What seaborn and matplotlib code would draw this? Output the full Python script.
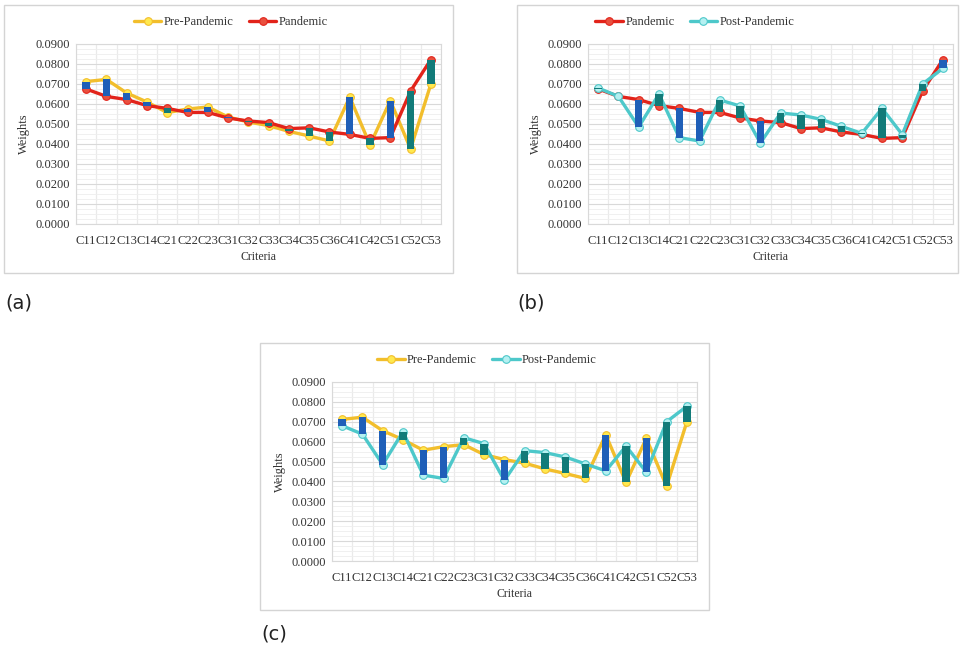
import numpy as np
import pandas as pd
import matplotlib
matplotlib.use('Agg')
import matplotlib.pyplot as plt
import seaborn as sns
from matplotlib.patches import Rectangle
from matplotlib.ticker import MultipleLocator, FormatStrFormatter

# Data
criteria = ['C11', 'C12', 'C13', 'C14', 'C21', 'C22', 'C23', 'C31', 'C32',
            'C33', 'C34', 'C35', 'C36', 'C41', 'C42', 'C51', 'C52', 'C53']
pre = [0.0712, 0.0723, 0.0655, 0.0610, 0.0557, 0.0575, 0.0585, 0.0535, 0.0510,
       0.0492, 0.0463, 0.0440, 0.0415, 0.0635, 0.0395, 0.0617, 0.0375, 0.0700]
pandemic = [0.0675, 0.0638, 0.0622, 0.0592, 0.0578, 0.0558, 0.0558, 0.0530, 0.0515,
            0.0507, 0.0477, 0.0481, 0.0460, 0.0448, 0.0428, 0.0432, 0.0665, 0.0822]
post = [0.0680, 0.0638, 0.0485, 0.0650, 0.0432, 0.0415, 0.0620, 0.0590, 0.0405,
        0.0555, 0.0545, 0.0523, 0.0488, 0.0453, 0.0578, 0.0447, 0.0700, 0.0778]

series = {
    'Pre-Pandemic': (pre, '#F2BE2C', '#FFE94F'),
    'Pandemic': (pandemic, '#E2231A', '#E8503F'),
    'Post-Pandemic': (post, '#4DC8CA', '#B5F0F1'),
}
BLUE = '#1F5FB8'
TEAL = '#127B79'

sns.set_theme(style='white')
plt.rcParams['font.family'] = ['Liberation Serif', 'DejaVu Serif']

W, H = 960, 652
fig = plt.figure(figsize=(9.6, 6.52), dpi=100)


def px_axes(l, t, r, b):
    return fig.add_axes([l / W, 1 - b / H, (r - l) / W, (b - t) / H])


def frame(l, t, r, b):
    fig.patches.append(Rectangle((l / W, 1 - b / H), (r - l) / W, (b - t) / H,
                                 transform=fig.transFigure, fill=False,
                                 edgecolor='#D4D4D4', linewidth=1))


def panel(box, first, second, legend_xy):
    ax = px_axes(*box)
    x = np.arange(len(criteria))
    a = np.array(series[first][0])
    b = np.array(series[second][0])
    for name in (first, second):
        vals, col, fill = series[name]
        sns.lineplot(x=x, y=vals, ax=ax, color=col, linewidth=2.4, marker='o',
                     markersize=5.5, markerfacecolor=fill, markeredgecolor=col,
                     markeredgewidth=0.8, label=name, zorder=3)
    cols = [BLUE if p > q else TEAL for p, q in zip(a, b)]
    ax.bar(x, np.abs(a - b), bottom=np.minimum(a, b), width=0.36, color=cols,
           zorder=4, linewidth=0)
    ax.set_xlim(-0.5, len(criteria) - 0.5)
    ax.set_ylim(0, 0.09)
    ax.yaxis.set_major_locator(MultipleLocator(0.01))
    ax.yaxis.set_minor_locator(MultipleLocator(0.0025))
    ax.yaxis.set_major_formatter(FormatStrFormatter('%.4f'))
    ax.set_xticks(x)
    ax.set_xticklabels(criteria)
    ax.set_xticks(np.arange(-0.5, len(criteria), 0.5), minor=True)
    ax.grid(which='major', axis='y', color='#D9D9D9', linewidth=0.8, zorder=0)
    ax.grid(which='minor', axis='both', color='#EEEEEE', linewidth=0.6, zorder=0)
    ax.grid(which='major', axis='x', visible=False)
    for xv in np.arange(-0.5, len(criteria), 1):
        ax.axvline(xv, color='#D9D9D9', linewidth=0.8, zorder=0)
    for s in ax.spines.values():
        s.set_color('#D9D9D9')
        s.set_linewidth(0.8)
    ax.tick_params(axis='both', which='both', length=0, labelsize=9,
                   labelcolor='#333333', pad=4)
    ax.tick_params(axis='x', pad=8)
    ax.set_xlabel('Criteria', fontsize=8.5, color='#333333', labelpad=3)
    ax.set_ylabel('Weights', fontsize=9, color='#333333', labelpad=4)
    ax.get_legend().remove()
    handles, labels = ax.get_legend_handles_labels()
    fig.legend(handles, labels, loc='center', ncol=2, frameon=False,
               bbox_to_anchor=(legend_xy[0] / W, 1 - legend_xy[1] / H),
               bbox_transform=fig.transFigure, fontsize=9, handlelength=2.2,
               columnspacing=1.2, handletextpad=0.2, labelcolor='#333333')
    return ax


frame(4, 5, 453, 273)
frame(517, 5, 958, 273)
frame(260, 343, 709, 610)

panel((76, 44, 441, 224), 'Pre-Pandemic', 'Pandemic', (231, 22))
panel((588, 44, 953, 224), 'Pandemic', 'Post-Pandemic', (695, 22))
panel((332, 382, 697, 561), 'Pre-Pandemic', 'Post-Pandemic', (487, 360))

for lbl, xp, yp in [('(a)', 5, 303), ('(b)', 517, 303), ('(c)', 261, 634)]:
    fig.text(xp / W, 1 - yp / H, lbl, fontsize=14, va='center', ha='left',
             family=['DejaVu Sans'], color='#222222')

fig.savefig('out.png', dpi=100)
